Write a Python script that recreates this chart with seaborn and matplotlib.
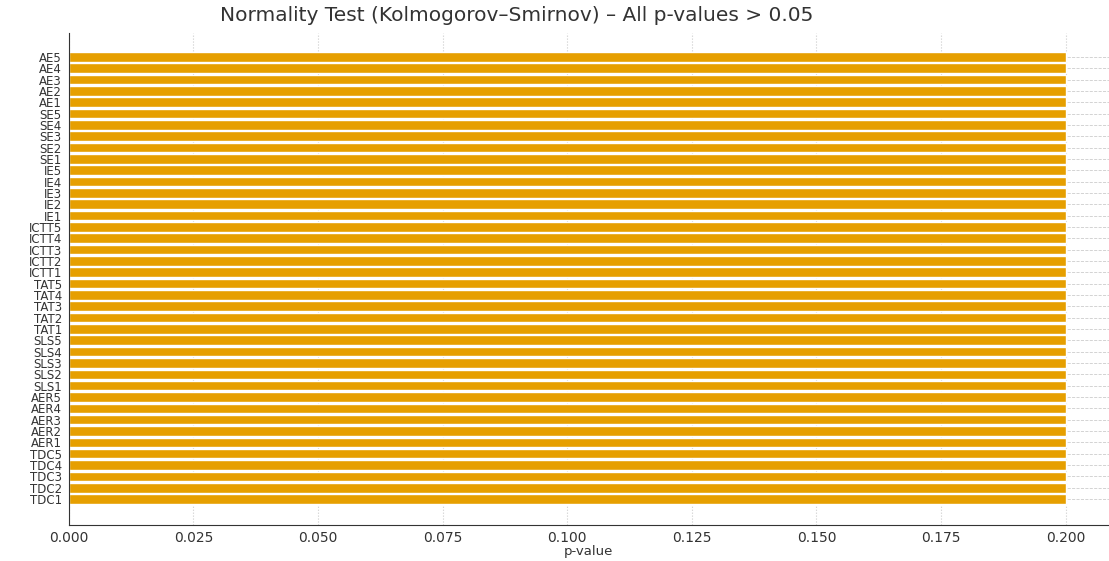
# -*- coding: utf-8 -*-
"""
Normality test bar chart (Kolmogorov-Smirnov p-values per item)
"""

import pandas as pd
import seaborn as sns
import matplotlib.pyplot as plt

# Items from top to bottom as shown in the chart
items = ["AE5", "AE4", "AE3", "AE2", "AE1",
         "SE5", "SE4", "SE3", "SE2", "SE1",
         "IE5", "IE4", "IE3", "IE2", "IE1",
         "ICTT5", "ICTT4", "ICTT3", "ICTT2", "ICTT1",
         "TAT5", "TAT4", "TAT3", "TAT2", "TAT1",
         "SLS5", "SLS4", "SLS3", "SLS2", "SLS1",
         "AER5", "AER4", "AER3", "AER2", "AER1",
         "TDC5", "TDC4", "TDC3", "TDC2", "TDC1"]

p_values = [0.200, 0.200, 0.200, 0.200, 0.200,
            0.200, 0.200, 0.200, 0.200, 0.200,
            0.200, 0.200, 0.200, 0.200, 0.200,
            0.200, 0.200, 0.200, 0.200, 0.200,
            0.200, 0.200, 0.200, 0.200, 0.200,
            0.200, 0.200, 0.200, 0.200, 0.200,
            0.200, 0.200, 0.200, 0.200, 0.200,
            0.200, 0.200, 0.200, 0.200, 0.200]

x_ticks = [0.000, 0.025, 0.050, 0.075, 0.100, 0.125, 0.150, 0.175, 0.200]


def plot_normality(df):
    sns.set_style("white")
    fig, ax = plt.subplots(figsize=(11.09, 5.61), dpi=100)
    fig.subplots_adjust(left=0.062, right=1.0, top=0.941, bottom=0.064)

    sns.barplot(data=df, x="p-value", y="Item", orient="h",
                color="#E69F00", saturation=1, width=0.85, ax=ax)

    # Grid behind the bars
    ax.set_axisbelow(True)
    ax.grid(axis="x", color="#cccccc", linestyle=":", linewidth=0.8)
    ax.grid(axis="y", color="#cccccc", linestyle="--", linewidth=0.6)

    # seaborn makes the categorical axis tight, give it back some room
    n = len(df)
    ax.set_ylim(n - 0.5 + 1.8, -0.5 - 1.6)
    ax.set_xlim(0, 0.2087)
    ax.set_xticks(x_ticks)
    ax.set_xticklabels(["%.3f" % t for t in x_ticks], fontsize=10, color="#333333")
    ax.tick_params(axis="y", labelsize=8.5, length=3, pad=2, labelcolor="#333333")
    ax.tick_params(axis="x", length=3, pad=1.5)

    for side in ["top", "right"]:
        ax.spines[side].set_visible(False)
    for side in ["left", "bottom"]:
        ax.spines[side].set_color("#333333")

    ax.set_ylabel("")
    ax.set_xlabel("p-value", fontsize=9.5, color="#333333", labelpad=0)
    ax.set_title("Normality Test (Kolmogorov\u2013Smirnov) \u2013 All p-values > 0.05",
                 fontsize=14.5, color="#333333", x=0.431, pad=9)

    plt.savefig("out.png", dpi=100)
    plt.close()


if __name__ == "__main__":
    df = pd.DataFrame({"Item": items, "p-value": p_values})
    plot_normality(df)
